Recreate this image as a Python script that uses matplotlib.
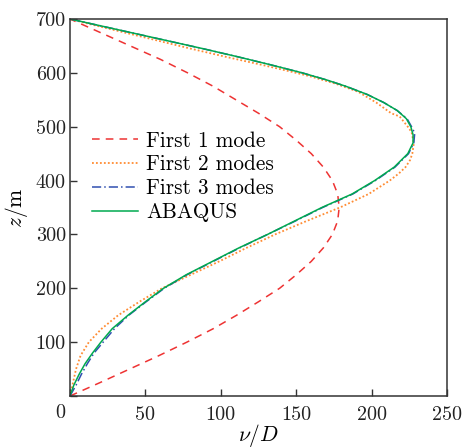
import matplotlib
matplotlib.use("Agg")
import matplotlib.pyplot as plt

plt.rcParams['font.family'] = 'serif'
plt.rcParams['font.serif'] = ['cmr10', 'DejaVu Serif']
plt.rcParams['mathtext.fontset'] = 'cm'
plt.rcParams['axes.formatter.use_mathtext'] = True

# First 1 mode (red dashed)
z1 = [0, 25, 50, 75, 100, 125, 150, 175, 200, 225, 250, 275, 300, 325, 350,
      375, 400, 425, 450, 475, 500, 525, 550, 575, 600, 625, 650, 675, 700]
v1 = [0, 20, 39.5, 59, 77.5, 95, 110.5, 125, 139, 150, 160, 168, 174, 177.5, 178.5,
      177.5, 174, 168, 160, 150, 139, 125, 110, 95, 78, 60, 40, 20, 0]

# First 2 modes (orange dotted)
z2 = [0, 25, 50, 75, 100, 125, 150, 175, 200, 225, 250, 275, 300, 325, 350,
      375, 400, 413, 425, 438, 450, 469, 490, 500, 519, 525, 545, 565, 580,
      593, 600, 615, 630, 645, 660, 675, 690, 700]
v2 = [0, 2, 4, 7, 12.5, 21, 32, 46, 61, 80, 99, 117, 136, 157, 179,
      198, 212, 218, 222.5, 225.5, 227, 228, 226.5, 224, 218.6, 213, 203, 191, 176,
      160, 150, 127, 103, 80, 58, 36, 14, 0]

# First 3 modes (blue dash-dot)
z3 = [0, 20, 40, 60, 80, 100, 125, 150, 175, 200, 225, 250, 275, 300, 325,
      350, 375, 400, 425, 450, 470, 488, 500, 515, 530, 545, 560, 575, 587,
      600, 615, 630, 645, 660, 675, 690, 700]
v3 = [0, 4, 7.5, 11.5, 16, 22, 29.5, 39, 50.5, 62.5, 77.5, 95, 112.5, 131, 149.5,
      167.5, 187.5, 202.5, 215.5, 224.5, 228, 228.6, 226.5, 223.5, 217, 208, 197, 183, 170,
      154, 133, 111, 88, 64, 40, 16, 0]

# ABAQUS (green solid)
z4 = [0, 20, 40, 60, 80, 100, 125, 150, 175, 200, 225, 250, 275, 300, 325,
      350, 375, 400, 425, 450, 470, 485, 500, 515, 530, 545, 560, 575, 587,
      600, 615, 630, 645, 660, 675, 690, 700]
v4 = [0, 2.5, 6, 10, 15, 20.5, 28, 38.5, 50, 62, 77, 94.5, 112, 131, 149,
      167, 187, 202, 215, 224, 227.5, 227.5, 226, 223, 217, 208, 197, 183, 170,
      154, 133, 111, 88, 64, 40, 16, 0]

labels = ['First 1 mode', 'First 2 modes', 'First 3 modes', 'ABAQUS']
xticks = [0, 50, 100, 150, 200, 250]
yticks = [0, 100, 200, 300, 400, 500, 600, 700]

fig = plt.figure(figsize=(4.64, 4.48), dpi=100)
ax = fig.add_axes([70/464, 1-396/448, 377/464, 377/448])

lw = 1.1
ax.plot(v1, z1, color='#ee3333', lw=lw, ls=(0, (5, 4)), label=labels[0])
ax.plot(v2, z2, color='#ff8c33', lw=lw + 0.2, ls=(0, (1, 1.2)), label=labels[1])
ax.plot(v3, z3, color='#3050b0', lw=lw, ls=(0, (6, 2, 1, 2)), label=labels[2])
ax.plot(v4, z4, color='#00a94f', lw=lw, ls='-', label=labels[3])

ax.set_xlim(0, 250)
ax.set_ylim(0, 700)
ax.set_xticks(xticks)
ax.set_yticks(yticks)
ax.set_xticklabels([''] + [str(t) for t in xticks[1:]])
ax.set_yticklabels([''] + [str(t) for t in yticks[1:]])
ax.tick_params(direction='in', length=5, width=1.0, color='#333333',
               labelsize=14.5, labelcolor='#222222')
ax.tick_params(axis='x', pad=7)
ax.tick_params(axis='y', pad=3)
for s in ax.spines.values():
    s.set_color('#333333')
    s.set_linewidth(1.1)

# shared corner "0" label
ax.text(-0.025, -0.022, '0', transform=ax.transAxes, ha='center', va='top',
        fontsize=14.5, color='#222222')

ax.set_xlabel(r'$\nu/D$', fontsize=15.5, labelpad=-1)
ax.set_ylabel(r'$z/\mathrm{m}$', fontsize=15.5, labelpad=4)

ax.legend(loc='upper left', bbox_to_anchor=(0.035, 0.725), frameon=False,
          fontsize=15.3, handlelength=2.2, handletextpad=0.35, labelspacing=0.2,
          borderaxespad=0)

fig.savefig('out.png', dpi=100)
